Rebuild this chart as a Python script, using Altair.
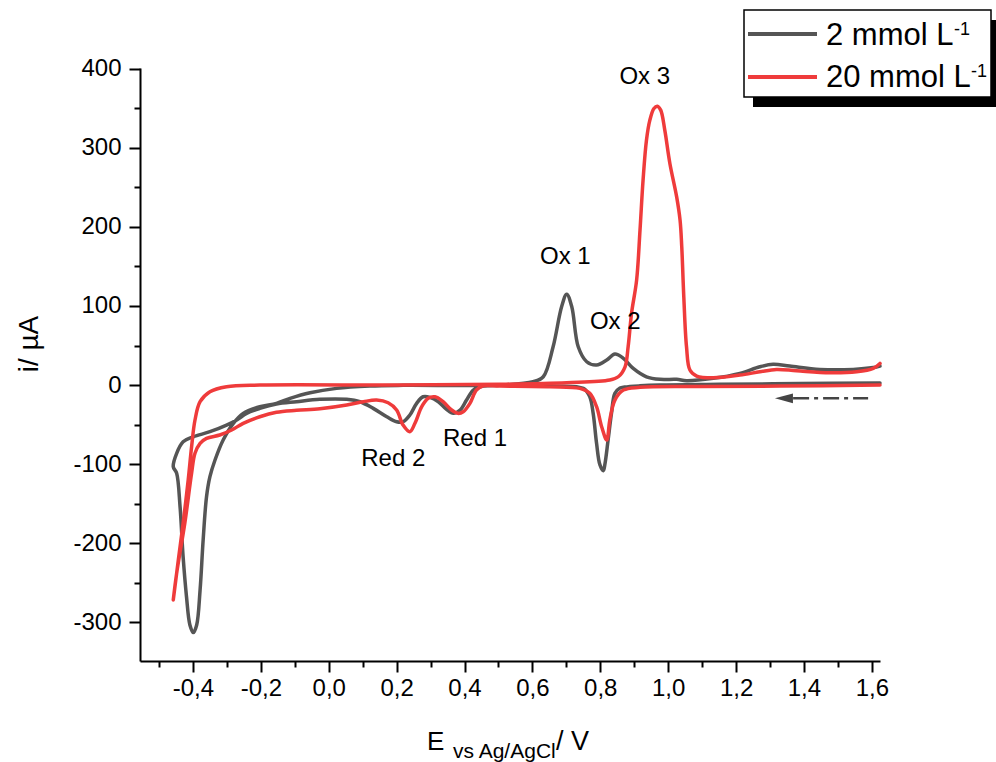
import altair as alt
import pandas as pd

# Cyclic voltammograms: sweep starts at the anodic limit, runs cathodically to
# about -0.46 V, then returns anodically.  Potentials in V, currents in µA.
E_2MM = [1.624, 1.388, 1.152, 0.976, 0.917, 0.872, 0.858, 0.843, 0.833, 0.823,
         0.814, 0.809, 0.799, 0.789, 0.779, 0.769, 0.750, 0.652, 0.504, 0.455,
         0.426, 0.406, 0.387, 0.367, 0.347, 0.323, 0.298, 0.278, 0.259, 0.239,
         0.219, 0.200, 0.171, 0.131, 0.092, 0.053, -0.026, -0.095, -0.154, -0.203,
         -0.242, -0.271, -0.301, -0.350, -0.399, -0.429, -0.448, -0.458,
         -0.448, -0.438, -0.429, -0.419, -0.409, -0.399, -0.389, -0.379, -0.370,
         -0.360, -0.350, -0.335, -0.311, -0.281, -0.252, -0.203, -0.154, -0.114,
         -0.055, 0.023, 0.121, 0.219, 0.504, 0.602, 0.632, 0.661, 0.686, 0.701,
         0.716, 0.735, 0.760, 0.789, 0.819, 0.843, 0.868, 0.897, 0.936, 0.976,
         1.025, 1.054, 1.133, 1.211, 1.270, 1.309, 1.358, 1.447, 1.545, 1.604,
         1.624]
I_2MM = [2.5, 1.9, 0.9, 0.0, -1.0, -2.5, -3.8, -10.5, -35.8, -69.5,
         -99.0, -108.3, -101.0, -73.7, -35.8, -14.8, -4.2, -1.3, -0.4, -1.3,
         -6.3, -19.0, -31.6, -35.8, -30.7, -21.1, -15.5, -14.8, -23.1, -37.9,
         -46.4, -46.4, -40.1, -29.5, -21.1, -18.1, -18.1, -21.1, -24.0, -29.5,
         -35.8, -44.2, -50.6, -59.0, -65.4, -71.7, -86.3, -103.3,
         -111.6, -153.9, -217.1, -267.7, -303.4, -313.1, -303.4, -259.2, -196.0,
         -141.2, -115.9, -94.8, -69.5, -48.4, -35.8, -27.4, -23.1, -16.8,
         -9.7, -4.2, -1.3, -0.4, 0.0, 4.2, 10.5, 48.4, 99.0, 115.0,
         99.0, 48.4, 29.5, 25.3, 31.6, 39.2, 33.8, 21.1, 10.5, 7.2,
         7.2, 5.4, 8.5, 14.8, 23.1, 26.2, 24.0, 19.8, 19.8, 22.1,
         24.0]

E_20MM = [1.624, 1.329, 1.094, 0.917, 0.868, 0.843, 0.828, 0.819, 0.804, 0.789,
          0.769, 0.740, 0.652, 0.504, 0.455, 0.435, 0.416, 0.396, 0.381, 0.362,
          0.337, 0.313, 0.293, 0.274, 0.254, 0.239, 0.219, 0.200, 0.175, 0.141,
          0.102, 0.053, -0.026, -0.095, -0.154, -0.203, -0.252, -0.286, -0.321,
          -0.360, -0.379, -0.394, -0.404, -0.424, -0.448, -0.458,
          -0.443, -0.429, -0.414, -0.404, -0.394, -0.379, -0.350, -0.301, -0.203,
          0.210, 0.504, 0.701, 0.828, 0.853, 0.873, 0.882, 0.892, 0.907, 0.917,
          0.926, 0.936, 0.946, 0.958, 0.968, 0.978, 0.990, 1.005, 1.025, 1.035,
          1.040, 1.046, 1.054, 1.064, 1.084, 1.133, 1.211, 1.270, 1.319, 1.378,
          1.476, 1.555, 1.604, 1.624]
I_20MM = [0.0, -1.3, -1.9, -2.9, -6.3, -19.0, -44.2, -69.5, -52.7, -27.4,
          -10.5, -4.2, -2.1, -1.3, -1.0, -6.3, -23.1, -33.8, -35.8, -31.6,
          -21.1, -14.8, -16.8, -27.4, -48.4, -59.0, -50.6, -31.6, -22.4, -19.0,
          -21.1, -25.3, -30.0, -32.0, -34.5, -40.1, -48.4, -56.9, -63.2,
          -67.4, -73.7, -86.3, -111.6, -174.8, -238.0, -271.8,
          -221.0, -174.8, -120.0, -78.0, -44.2, -21.1, -8.5, -2.1, 0.0,
          0.0, 1.0, 2.9, 6.3, 10.5, 23.1, 48.4, 90.6, 132.7, 196.0,
          259.2, 309.7, 335.0, 349.8, 352.7, 347.7, 322.4, 280.3, 238.0, 208.6,
          174.8, 111.6, 48.4, 19.0, 11.4, 9.2, 12.6, 16.8, 19.8, 18.1,
          15.5, 16.8, 21.1, 27.4]

# Peak annotations
PEAK_NAMES = ["Ox 1", "Ox 2", "Ox 3", "Red 2", "Red 1"]
PEAK_E = [0.697, 0.844, 0.931, 0.190, 0.431]
PEAK_I = [162, 80, 389, -93, -68]

# Scan-direction arrow
ARROW_E = [1.368, 1.589]
ARROW_HEAD_E = [1.341]
ARROW_I = [-16.8]

X_TICKS = [-0.5, -0.4, -0.3, -0.2, -0.1, 0.0, 0.1, 0.2, 0.3, 0.4, 0.5, 0.6,
           0.7, 0.8, 0.9, 1.0, 1.1, 1.2, 1.3, 1.4, 1.5, 1.6]
Y_TICKS = [-300, -250, -200, -150, -100, -50, 0, 50, 100, 150, 200, 250, 300,
           350, 400]

SERIES = ["2 mmol L", "20 mmol L"]
COLORS = ["#555555", "#ef3b3b"]
FONT = "Liberation Sans"

W, H = 740, 593

gray = pd.DataFrame({"E": E_2MM, "I": I_2MM, "k": range(len(E_2MM))})
red = pd.DataFrame({"E": E_20MM, "I": I_20MM, "k": range(len(E_20MM))})
peaks = pd.DataFrame({"E": PEAK_E, "I": PEAK_I, "name": PEAK_NAMES})
arrow_line = pd.DataFrame({"E": [ARROW_E[0]], "E2": [ARROW_E[1]], "I": ARROW_I})
arrow_head = pd.DataFrame({"E": ARROW_HEAD_E, "I": ARROW_I})
one = pd.DataFrame({"a": [0]})

major_x = "abs(round(datum.value * 10)) % 2 == 0"
x_axis = alt.Axis(
    values=X_TICKS, title=None, grid=False,
    labelExpr=(f"{major_x} ? replace(replace(format(datum.value, '.1f'), '.', ','),"
               " '\u2212', '-') : ''"),
    tickSize={"condition": {"test": major_x, "value": 11}, "value": 6},
    tickWidth=2, tickColor="black", domainWidth=2, domainColor="black",
    labelFont=FONT, labelFontSize=24, labelColor="black", labelPadding=4,
    labelFlush=False, labelOverlap=False,
)
major_y = "datum.value % 100 == 0"
y_axis = alt.Axis(
    values=Y_TICKS, title=None, grid=False,
    labelExpr=f"{major_y} ? replace(format(datum.value, 'd'), '\u2212', '-') : ''",
    tickSize={"condition": {"test": major_y, "value": 11}, "value": 6},
    tickWidth=2, tickColor="black", domainWidth=2, domainColor="black",
    labelFont=FONT, labelFontSize=24, labelColor="black", labelPadding=8,
    labelFlush=False, labelOverlap=False,
)
x_scale = alt.Scale(domain=[-0.556, 1.624], nice=False, zero=False)
y_scale = alt.Scale(domain=[-349, 401], nice=False, zero=False)
X = alt.X("E:Q", scale=x_scale, axis=x_axis)
Y = alt.Y("I:Q", scale=y_scale, axis=y_axis)


def curve(df, color):
    return alt.Chart(df).mark_line(
        color=color, strokeWidth=3.5, interpolate="catmull-rom",
        strokeJoin="round", strokeCap="round",
    ).encode(x=X, y=Y, order="k:Q")


lines = curve(gray, COLORS[0]) + curve(red, COLORS[1])

labels = alt.Chart(peaks).mark_text(
    font=FONT, fontSize=24, color="black", align="center", baseline="middle"
).encode(x=X, y=Y, text="name:N")

arrow = alt.Chart(arrow_line).mark_rule(
    color="#444444", strokeWidth=2.5, strokeDash=[16, 5, 4, 5]
).encode(x=X, x2="E2:Q", y=Y)
head = alt.Chart(arrow_head).mark_point(
    shape="M -1 0 L 1 -0.55 L 1 0.55 Z", size=324, filled=True,
    color="#444444", opacity=1, strokeWidth=0,
).encode(x=X, y=Y)


def text(s, x, y, size, **kw):
    return alt.Chart(one).mark_text(
        text=s, font=FONT, fontSize=size, color="black", **kw
    ).encode(x=alt.value(x), y=alt.value(y))


titles = (
    text("E", 287, 682, 26, align="left", baseline="alphabetic")
    + text("vs Ag/AgCl", 313, 689.5, 21, align="left", baseline="alphabetic")
    + text("/ V", 416, 682, 27, align="left", baseline="alphabetic")
    + text("i/ \u00b5A", -110, 276, 28, align="center", baseline="middle", angle=270)
)

# Legend box with drop shadow
shadow = alt.Chart(one).mark_rect(color="black").encode(
    x=alt.value(613), x2=alt.value(870), y=alt.value(-48), y2=alt.value(39))
box = alt.Chart(one).mark_rect(fill="white", stroke="black", strokeWidth=1.5).encode(
    x=alt.value(604), x2=alt.value(851), y=alt.value(-58), y2=alt.value(29))
swatches = (
    alt.Chart(one).mark_rule(color=COLORS[0], strokeWidth=4).encode(
        x=alt.value(608), x2=alt.value(677), y=alt.value(-34))
    + alt.Chart(one).mark_rule(color=COLORS[1], strokeWidth=4).encode(
        x=alt.value(608), x2=alt.value(677), y=alt.value(9))
)
legend_text = (
    text(SERIES[0], 686, -23, 31, align="left", baseline="alphabetic")
    + text("-1", 814, -33, 18, align="left", baseline="alphabetic")
    + text(SERIES[1], 686, 19, 31, align="left", baseline="alphabetic")
    + text("-1", 831, 9, 18, align="left", baseline="alphabetic")
)

chart = alt.layer(
    lines, labels, arrow, head, titles, shadow, box, swatches, legend_text
).properties(
    width=W, height=H,
    autosize=alt.AutoSizeParams(type="none"),
    padding={"left": 140, "top": 68, "right": 116, "bottom": 101},
    background="white",
).configure_view(stroke=None)

chart.save("out.html", embed_options={"renderer": "svg", "actions": False})
